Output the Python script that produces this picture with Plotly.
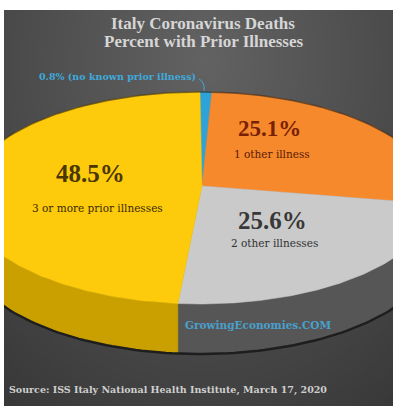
import numpy as np
import plotly.graph_objects as go

# ---------------- data ----------------
categories = ["no known prior illness", "1 other illness", "2 other illnesses", "3 or more prior illnesses"]
percent = [0.8, 25.1, 25.6, 48.5]
pct_labels = ["0.8%", "25.1%", "25.6%", "48.5%"]
title_lines = ["Italy Coronavirus Deaths", "Percent with Prior Illnesses"]
source_text = "Source: ISS Italy National Health Institute, March 17, 2020"
watermark = "GrowingEconomies.COM"

# ---------------- style ----------------
top_colors = ["#2EA3DA", "#F6892C", "#CACACA", "#FDCB0C"]
side_colors = ["#1F7FAE", "#C0651E", "#565656", "#C9A000"]
W, H = 393, 406
cx, cy, ea, eb = 200, 198, 235, 106     # ellipse of the top face
apex = (202, 186)                        # visual pie centre
depth = 50                               # thickness of the 3D wall
SERIF = "Liberation Serif"
SERIF2 = "DejaVu Serif"

fig = go.Figure()

# background gradient (decorative)
gx = np.linspace(0, W, 70)
gy = np.linspace(0, H, 70)
GX, GY = np.meshgrid(gx, gy)
gz = np.sqrt(((GX - 205) / 260) ** 2 + ((GY - 60) / 330) ** 2)
fig.add_trace(go.Heatmap(x=gx, y=gy, z=gz, zsmooth="best", showscale=False,
                         colorscale=[[0, "#626262"], [0.55, "#4b4b4b"], [1, "#373737"]],
                         hoverinfo="skip"))

cum = np.concatenate([[0], np.cumsum(percent)]) / 100.0
t_bounds = np.pi / 2 - 2 * np.pi * cum


def arc(t1, t2, n=120, dy=0):
    ts = np.linspace(t1, t2, n)
    return cx + ea * np.cos(ts), cy - eb * np.sin(ts) + dy


# side walls (front half only)
for i in range(len(percent)):
    hi = min(t_bounds[i], 0)
    lo = max(t_bounds[i + 1], -np.pi)
    if hi > lo:
        xs, ys = arc(hi, lo)
        xb, yb = arc(lo, hi, dy=depth)
        fig.add_trace(go.Scatter(x=np.concatenate([xs, xb, xs[:1]]),
                                 y=np.concatenate([ys, yb, ys[:1]]),
                                 fill="toself", fillcolor=side_colors[i], mode="lines",
                                 line=dict(width=0.5, color=side_colors[i]), hoverinfo="skip"))

# dark bottom rim
xr, yr = arc(0, -np.pi, dy=depth)
fig.add_trace(go.Scatter(x=xr, y=yr, mode="lines", line=dict(color="#1e1e1e", width=2.5),
                         hoverinfo="skip"))

# top faces
for i in range(len(percent)):
    xs, ys = arc(t_bounds[i], t_bounds[i + 1], n=max(4, int(400 * (cum[i + 1] - cum[i]))))
    fig.add_trace(go.Scatter(x=np.concatenate([[apex[0]], xs, [apex[0]]]),
                             y=np.concatenate([[apex[1]], ys, [apex[1]]]),
                             fill="toself", fillcolor=top_colors[i], mode="lines",
                             line=dict(width=0.5, color=top_colors[i]), hoverinfo="skip"))

# top rim of back half
xt, yt = arc(0, np.pi)
fig.add_trace(go.Scatter(x=xt, y=yt, mode="lines", line=dict(color="rgba(40,30,20,0.55)", width=1.5),
                         hoverinfo="skip"))

ann = []
# title
ann.append(dict(x=203, y=23, xref="x", yref="y", text="<b>" + title_lines[0] + "</b>",
                showarrow=False, font=dict(family=SERIF, size=17, color="#d6d6d6")))
ann.append(dict(x=203, y=41, xref="x", yref="y", text="<b>" + title_lines[1] + "</b>",
                showarrow=False, font=dict(family=SERIF, size=17, color="#d6d6d6")))

# slice labels
pct_pos = [None, (269, 128), (272, 220), (90, 173)]
cat_pos = [None, (272, 154), (274, 243), (97, 208)]
pct_col = [None, "#7a1f05", "#383838", "#4a3600"]
cat_col = [None, "#5a1a05", "#303030", "#3a2a00"]
pct_size = [None, 23, 25, 25]
for i in range(1, 4):
    ann.append(dict(x=pct_pos[i][0], y=pct_pos[i][1], xref="x", yref="y",
                    text="<b>" + pct_labels[i] + "</b>", showarrow=False,
                    font=dict(family=SERIF, size=pct_size[i], color=pct_col[i])))
    ann.append(dict(x=cat_pos[i][0], y=cat_pos[i][1], xref="x", yref="y",
                    text=categories[i], showarrow=False,
                    font=dict(family=SERIF2, size=10.5, color=cat_col[i])))

# small slice label
ann.append(dict(x=117, y=76, xref="x", yref="y",
                text="<b>" + pct_labels[0] + " (" + categories[0] + ")</b>", showarrow=False,
                font=dict(family=SERIF2, size=9.5, color="#3FA9DC")))

# watermark
ann.append(dict(x=258, y=325, xref="x", yref="y", text="<b>" + watermark + "</b>", showarrow=False,
                font=dict(family=SERIF2, size=10.5, color="#4AA0CC")))

# source
ann.append(dict(x=7, y=390, xref="x", yref="y", xanchor="left", text="<b>" + source_text + "</b>",
                showarrow=False, font=dict(family=SERIF2, size=9.5, color="#cfcfcf")))

fig.update_layout(
    width=W, height=H,
    margin=dict(l=4, r=0, t=10, b=0),
    paper_bgcolor="#474747", plot_bgcolor="#474747",
    showlegend=False,
    xaxis=dict(range=[4, W], visible=False, fixedrange=True),
    yaxis=dict(range=[H, 10], visible=False, fixedrange=True),
    annotations=ann,
    shapes=[
        dict(type="path", xref="x", yref="y",
             path="M 199 79 Q 205 82 204 91", line=dict(color="#3FA9DC", width=1)),
        dict(type="rect", xref="paper", yref="paper", x0=-0.02, x1=0, y0=-0.05, y1=1.05,
             fillcolor="white", line=dict(width=0), layer="above"),
        dict(type="rect", xref="paper", yref="paper", x0=-0.02, x1=1.02, y0=1, y1=1.05,
             fillcolor="white", line=dict(width=0), layer="above"),
    ],
)

fig.write_html("out.html")
